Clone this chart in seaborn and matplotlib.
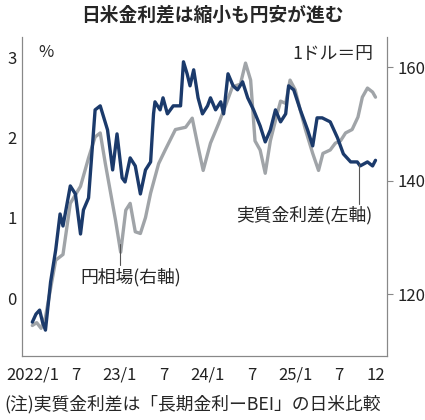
import matplotlib
matplotlib.use("Agg")
import matplotlib.pyplot as plt
import seaborn as sns
import pandas as pd

sns.set_style("white")
plt.rcParams['font.family'] = ['Noto Sans CJK JP', 'DejaVu Sans']

# months since 2022/1
blue_m = [0,0.5,1,1.4,1.8,2.5,3.2,3.8,4.2,5.2,5.9,6.6,7.0,7.7,8.6,9.3,10.3,11.0,11.6,12.3,12.7,13.4,14.1,14.8,15.5,16.2,16.6,16.8,17.5,17.9,18.5,19.3,20.3,20.7,21.2,21.6,22.1,22.7,23.3,24.0,24.4,25.1,25.8,26.2,26.8,27.5,28.1,28.8,29.5,30.3,31.2,31.9,32.6,33.3,34.0,34.7,35.1,35.8,36.7,37.7,38.4,39.0,39.7,40.8,41.8,42.6,43.6,44.5,44.9,45.9,46.6,47.0]
blue_v = [-0.3,-0.2,-0.15,-0.3,-0.4,0.2,0.6,1.05,0.9,1.4,1.3,0.8,1.1,1.25,2.35,2.4,2.1,1.6,2.05,1.5,1.45,1.75,1.65,1.3,1.6,1.7,2.3,2.45,2.35,2.5,2.3,2.4,2.4,2.95,2.8,2.65,2.85,2.5,2.3,2.4,2.5,2.35,2.45,2.3,2.8,2.65,2.6,2.7,2.5,2.35,2.15,1.95,2.1,2.35,2.2,2.3,2.65,2.6,2.35,2.1,1.9,2.25,2.25,2.2,2.0,1.8,1.7,1.7,1.65,1.7,1.65,1.72]
gray_m = [0,0.6,1.2,1.8,3.2,4.2,5.2,6.6,7.7,8.6,9.3,10.0,10.7,11.4,12.1,12.8,13.4,14.1,14.8,15.5,16.2,17.3,18.2,19.6,21.0,21.9,22.6,23.4,24.4,25.5,26.4,27.4,28.5,29.2,29.9,30.5,31.2,31.9,32.6,33.3,34.0,34.7,35.3,36.0,36.7,37.4,38.4,39.2,39.8,40.8,41.5,42.2,42.9,43.8,44.6,45.2,45.9,46.6,47.0]
gray_v = [114.5,115,114,116,126,127,136,139,144,147.7,148.4,143,138,133,127.4,134.8,136,131,130.7,133.5,137.8,143,145.4,149,149.4,151,146.6,141.8,146.6,150,153,156.5,157,160.7,157.7,147,145.4,141.3,147,150.6,154,153.6,157.7,156,152.4,149,144.8,141.8,144.8,145.4,146.6,147,148.4,149,151.2,154.7,156.3,155.6,154.7]
xtick_m = [0,6,12,18,24,30,36,42,47]
xtick_lab = ["2022/1","7","23/1","7","24/1","7","25/1","7","12"]

navy = "#1b3a6b"; gray = "#a0a4a8"; spine = "#888888"
fig = plt.figure(figsize=(4.25,4.2), dpi=100)
ax = fig.add_axes([0.052,0.152,0.859,0.76])
ax2 = ax.twinx()
sns.lineplot(x=gray_m, y=gray_v, ax=ax2, color=gray, lw=2.4)
sns.lineplot(x=blue_m, y=blue_v, ax=ax, color=navy, lw=2.4)
ax.set_zorder(ax2.get_zorder()+1); ax.patch.set_visible(False)

ax.set_xlim(-1.4, 48.6)
ax.set_ylim(-0.725, 3.26)
ax2.set_ylim(109.1, 165.3)
ax.set_yticks([0,1,2,3]); ax.set_yticklabels(["0","1","2","3"])
ax2.set_yticks([120,140,160])
ax.set_xticks(xtick_m); ax.set_xticklabels(xtick_lab)
for a in (ax, ax2):
    for s in a.spines.values():
        s.set_color(spine)
    a.spines['top'].set_visible(False)
ax.tick_params(axis='y', length=0, labelsize=12, pad=4, colors="#222222")
ax.tick_params(axis='x', length=4, color=spine, labelsize=12, colors="#222222", direction='out')
ax2.tick_params(axis='y', length=4, color=spine, labelsize=12, colors="#222222")

fig.text(0.5, 0.965, "日米金利差は縮小も円安が進む", ha='center', va='center', fontsize=13.5, fontweight='bold')
fig.text(0.09, 0.875, "%", fontsize=12, va='center')
fig.text(0.878, 0.872, "1ドル＝円", fontsize=12.8, ha='right', va='center')
fig.text(0.555, 0.487, "実質金利差(左軸)", fontsize=12.8, va='center')
fig.text(0.19, 0.34, "円相場(右軸)", fontsize=12.8, va='center')
fig.add_artist(plt.Line2D([0.845,0.845],[0.61,0.515], color="#555555", lw=0.8))
fig.add_artist(plt.Line2D([0.283,0.283],[0.42,0.37], color="#555555", lw=0.8))
fig.text(0.01, 0.038, "(注)実質金利差は「長期金利ーBEI」の日米比較", fontsize=12.8, va='center')
fig.savefig("out.png", dpi=100)
